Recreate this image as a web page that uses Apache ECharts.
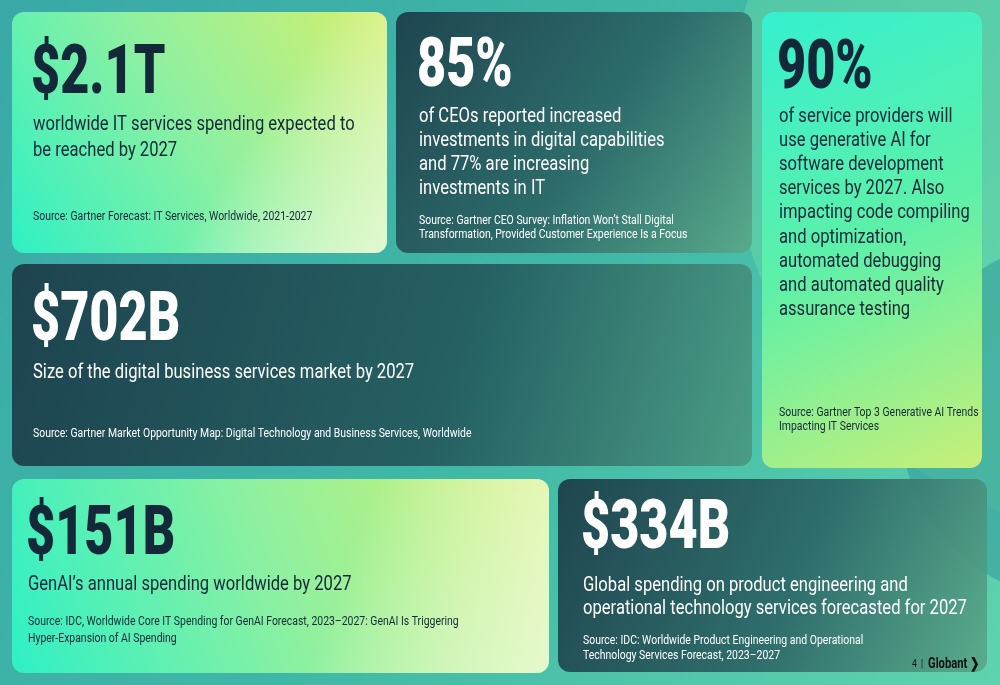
<!DOCTYPE html>
<html><head><meta charset="utf-8">
<script src="https://cdn.jsdelivr.net/npm/echarts@6/dist/echarts.min.js"></script>
<style>html,body{margin:0;padding:0;}#c{width:1000px;height:685px;}</style>
</head><body><div id="c"></div>
<script>
var stats = ['$2.1T', '85%', '90%', '$702B', '$151B', '$334B'];
var descriptions = [
  ['worldwide IT services spending expected to', 'be reached by 2027'],
  ['of CEOs reported increased', 'investments in digital capabilities', 'and 77% are increasing', 'investments in IT'],
  ['of service providers will', 'use generative AI for', 'software development', 'services by 2027. Also', 'impacting code compiling', 'and optimization,', 'automated debugging', 'and automated quality', 'assurance testing'],
  ['Size of the digital business services market by 2027'],
  ['GenAI\u2019s annual spending worldwide by 2027'],
  ['Global spending on product engineering and', 'operational technology services forecasted for 2027']
];
var sources = [
  ['Source: Gartner Forecast: IT Services, Worldwide, 2021-2027'],
  ['Source: Gartner CEO Survey: Inflation Won\u2019t Stall Digital', 'Transformation, Provided Customer Experience Is a Focus'],
  ['Source: Gartner Top 3 Generative AI Trends', 'Impacting IT Services'],
  ['Source: Gartner Market Opportunity Map: Digital Technology and Business Services, Worldwide'],
  ['Source: IDC, Worldwide Core IT Spending for GenAI Forecast, 2023\u20132027: GenAI Is Triggering', 'Hyper-Expansion of AI Spending'],
  ['Source: IDC: Worldwide Product Engineering and Operational', 'Technology Services Forecast, 2023\u20132027']
];
var pageNumber = '4';
var brand = 'Globant';

// layout (not data)
var cards = [
  {x:12,y:12,w:375,h:241,dark:0,tx:33,big:76,d0:125,dl:26,ds:20,s0:217,fs:21,g:0},
  {x:396,y:12,w:356,h:241,dark:1,tx:419,big:69,d0:117,dl:24,ds:20,s0:221,fs:14},
  {x:762,y:12,w:220,h:456,dark:0,tx:779,big:71,d0:117,dl:24.1,ds:20,s0:413,fs:14,g:1},
  {x:12,y:264,w:740,h:202,dark:2,tx:33,big:323,d0:373,dl:24,ds:20,s0:434,fs:14},
  {x:12,y:479,w:537,h:194,dark:0,tx:28,big:537,d0:585,dl:24,ds:20,s0:622,fs:17,g:0},
  {x:558,y:479,w:429,h:193,dark:1,tx:583,big:531,d0:586,dl:23,ds:20,s0:641,fs:15}
];
var FONT = 'Roboto,"Noto Sans",sans-serif';
var els = [];
function txt(t,x,y,font,fill,sx){
  els.push({type:'text',x:x,y:y,scaleX:sx,style:{text:t,x:0,y:0,verticalAlign:'middle',font:font,fill:fill},silent:true});
}
els.push({type:'rect',shape:{x:0,y:0,width:1000,height:685},style:{fill:new echarts.graphic.LinearGradient(0,0,1,1,[{offset:0,color:'#3aa9a7'},{offset:0.5,color:'#3fb7a6'},{offset:1,color:'#5fd3ae'}])},silent:true});
els.push({type:'circle',shape:{cx:1150,cy:120,r:420},style:{fill:'rgba(120,230,170,0.35)'},silent:true});
els.push({type:'circle',shape:{cx:1080,cy:420,r:180},style:{fill:'rgba(40,140,150,0.45)'},silent:true});
cards.forEach(function(c,i){
  var fill;
  if(c.dark===1) fill = new echarts.graphic.LinearGradient(0,0,1,1,[{offset:0,color:'#1c3d49'},{offset:0.55,color:'#2c6767'},{offset:1,color:'#5aa98a'}]);
  else if(c.dark===2) fill = new echarts.graphic.LinearGradient(0,0,1,1,[{offset:0,color:'#1b3c48'},{offset:0.6,color:'#245a5e'},{offset:1,color:'#4a9a82'}]);
  else if(c.g===1) fill = new echarts.graphic.LinearGradient(0,0,1,1,[{offset:0,color:'#35f0cf'},{offset:0.5,color:'#5ef0a8'},{offset:1,color:'#c8ef78'}]);
  else fill = new echarts.graphic.LinearGradient(0,1,1,0,[{offset:0,color:'#2ff0c4'},{offset:0.5,color:'#8ff0a0'},{offset:1,color:'#d4ef6e'}]);
  els.push({type:'rect',shape:{x:c.x,y:c.y,width:c.w,height:c.h,r:12},style:{fill:fill,opacity:c.dark?0.93:1},silent:true});
  if(!c.dark && c.g===0){
    els.push({type:'rect',shape:{x:c.x,y:c.y,width:c.w,height:c.h,r:12},style:{fill:new echarts.graphic.LinearGradient(0,0,1,1,[{offset:0.6,color:'rgba(255,255,255,0)'},{offset:1,color:'rgba(235,250,220,0.85)'}])},silent:true});
  }
  var col = c.dark ? '#ffffff' : '#13293a';
  txt(stats[i],c.tx-2,c.big,'900 68px '+FONT,col,0.74);
  descriptions[i].forEach(function(t,k){ txt(t,c.tx,c.d0+k*c.dl,c.ds+'px '+FONT,col,0.83); });
  sources[i].forEach(function(t,k){ txt(t,c.tx,c.s0+k*c.fs,'12px '+FONT,col,0.87); });
});
txt(pageNumber+'  |',912,664,'10px '+FONT,'#111',0.85);
txt(brand+' \u276F',928,664,'bold 14px '+FONT,'#111',0.8);
var chart = echarts.init(document.getElementById('c'));
chart.setOption({animation:false,graphic:{elements:els}});
</script></body></html>
